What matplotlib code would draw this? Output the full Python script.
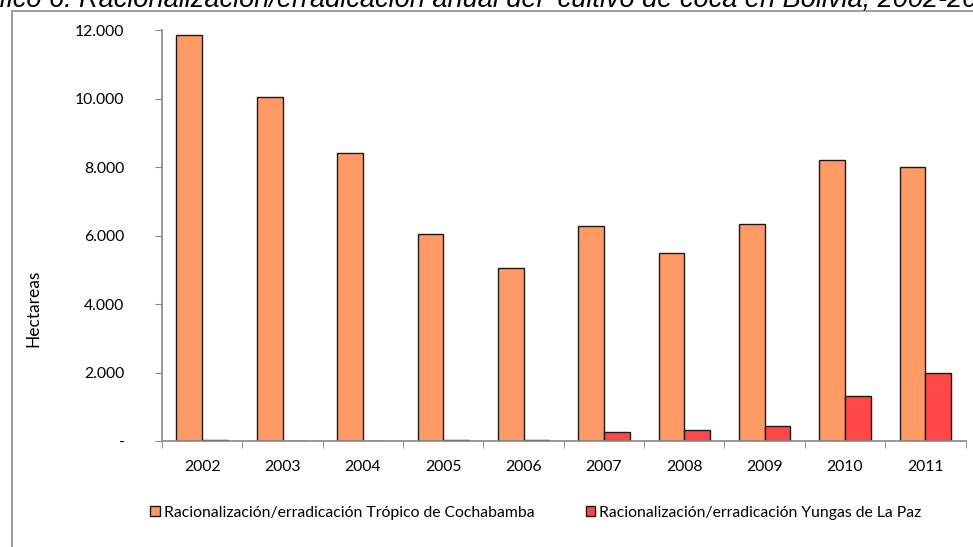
import matplotlib
matplotlib.use("Agg")
import matplotlib.pyplot as plt
import numpy as np
from matplotlib.patches import Rectangle
from matplotlib.ticker import FuncFormatter

years = ["2002", "2003", "2004", "2005", "2006", "2007", "2008", "2009", "2010", "2011"]
tropico = [11850, 10050, 8420, 6050, 5050, 6270, 5480, 6340, 8200, 8000]
yungas = [30, 0, 0, 20, 20, 270, 310, 430, 1310, 2000]
series_names = ["Racionalización/erradicación Trópico de Cochabamba",
                "Racionalización/erradicación Yungas de La Paz"]
yticks = [0, 2000, 4000, 6000, 8000, 10000, 12000]

W, H = 973, 547
fig = plt.figure(figsize=(W / 100, H / 100), dpi=100)
plt.rcParams['font.family'] = ['Lato', 'DejaVu Sans']

# outer chart border (extends beyond right/bottom edges)
fig.patches.append(Rectangle((12 / W, -0.1), 1.2, 1 - 10.5 / H + 0.1, transform=fig.transFigure,
                             fill=False, edgecolor="#8c8c8c", linewidth=1.2))

# title (clipped at the top edge, as in the reference)
fig.text(72 / W, 1 - 7 / H, "Gráfico 6:", ha="right", va="baseline", fontsize=19.5,
         style="italic", family="Liberation Sans", color="black")
fig.text(79 / W, 1 - 7 / H, "Racionalización/erradicación anual del  cultivo de coca en Bolivia, 2002-2011",
         ha="left", va="baseline", fontsize=19.5, style="italic", family="Liberation Sans", color="black")

ax = fig.add_axes([162 / W, 1 - 441 / H, (965.5 - 162) / W, (441 - 30) / H])
x = np.arange(len(years))
bw = 0.32
b1 = ax.bar(x - bw / 2, tropico, bw, color="#FF9966", edgecolor="#1a1a1a", linewidth=1.0,
            label=series_names[0])
b2 = ax.bar(x + bw / 2, yungas, bw, color="#FF4747", edgecolor="#1a1a1a", linewidth=1.0,
            label=series_names[1])

ax.set_xlim(-0.5, len(years) - 0.5)
ax.set_ylim(0, 12000)
ax.set_yticks(yticks)
ax.yaxis.set_major_formatter(FuncFormatter(lambda v, p: "-" if v == 0 else f"{int(v):,}".replace(",", ".")))
ax.set_xticks(x)
ax.set_xticklabels(years)
ax.set_xticks(np.arange(-0.5, len(years), 1.0), minor=True)
ax.tick_params(axis="x", which="major", length=0, pad=14, labelsize=11.3)
ax.tick_params(axis="x", which="minor", length=5, color="#878787", direction="out")
ax.tick_params(axis="y", which="major", length=5, color="#878787", direction="out", pad=22, labelsize=11.3)

for s in ["top", "right"]:
    ax.spines[s].set_visible(False)
for s in ["left", "bottom"]:
    ax.spines[s].set_color("#878787")
    ax.spines[s].set_linewidth(1.2)

fig.text(33 / W, 1 - 308 / H, "Hectareas", rotation=90, ha="center", va="center", fontsize=12.5)

leg = fig.legend(handles=[b1, b2], loc="center", bbox_to_anchor=(536 / W, 1 - 513 / H), ncol=2,
                 frameon=False, fontsize=11.3, handlelength=0.6, handleheight=0.6,
                 handletextpad=0.25, columnspacing=3.3, borderpad=0)

fig.savefig("out.png", dpi=100)
